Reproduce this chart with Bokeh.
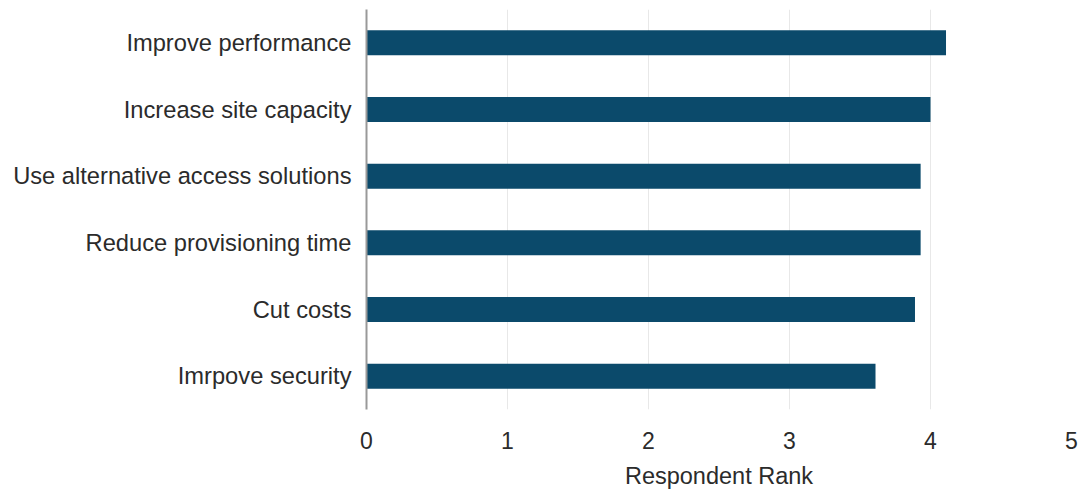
from bokeh.plotting import figure
from bokeh.models import FactorRange, Range1d, FixedTicker
from bokeh.embed import file_html
from bokeh.resources import INLINE

categories = ["Improve performance", "Increase site capacity", "Use alternative access solutions",
              "Reduce provisioning time", "Cut costs", "Imrpove security"]
ranks = [4.11, 4.00, 3.93, 3.93, 3.89, 3.61]
x_ticks = [0, 1, 2, 3, 4, 5]

FONT = "Liberation Sans"
TXT = "#2b2b2b"

p = figure(width=1080, height=491, output_backend="svg", toolbar_location=None,
           y_range=FactorRange(*categories[::-1], range_padding=0),
           x_range=Range1d(0, 5),
           min_border_left=366, min_border_right=9, min_border_top=9, min_border_bottom=82)
p.outline_line_color = None
p.background_fill_color = "white"
p.border_fill_color = "white"

p.hbar(y=categories, right=ranks, left=0, height=0.375, color="#0b4a6b", line_color=None)

# x axis
xa = p.xaxis[0]
xa.ticker = FixedTicker(ticks=x_ticks)
xa.axis_line_color = None
xa.major_tick_line_color = None
xa.minor_tick_line_color = None
xa.major_label_standoff = 16
xa.major_label_text_font = FONT
xa.major_label_text_font_size = "23px"
xa.major_label_text_color = TXT
xa.axis_label = "Respondent Rank"
xa.axis_label_text_font = FONT
xa.axis_label_text_font_size = "23.5px"
xa.axis_label_text_font_style = "normal"
xa.axis_label_text_color = TXT
xa.axis_label_standoff = 11

# y axis
ya = p.yaxis[0]
ya.axis_line_color = "#999999"
ya.axis_line_width = 2
ya.major_tick_line_color = None
ya.minor_tick_line_color = None
ya.major_label_standoff = 9
ya.major_label_text_font = FONT
ya.major_label_text_font_size = "23.7px"
ya.major_label_text_color = TXT

p.ygrid.grid_line_color = None
p.xgrid.grid_line_color = "#e8e8e8"
p.xgrid.grid_line_width = 1

open("out.html", "w").write(file_html(p, INLINE))
